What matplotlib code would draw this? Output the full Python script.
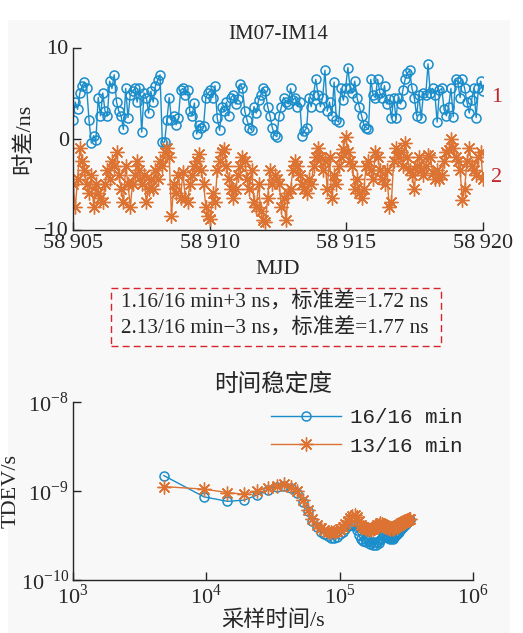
import numpy as np
import matplotlib
matplotlib.use("Agg")
import matplotlib.pyplot as plt
from matplotlib.patches import Rectangle
from matplotlib.ticker import FixedLocator, NullLocator

plt.rcParams['font.family'] = ['Liberation Serif', 'Noto Sans CJK SC', 'DejaVu Sans']
plt.rcParams['mathtext.fontset'] = 'custom'
plt.rcParams['mathtext.rm'] = 'Liberation Serif'
plt.rcParams['axes.unicode_minus'] = True

# ---------------- data ----------------
mjd_start, mjd_end = 58905, 58920
series1 = [
    2, 4, 3.2, 5, 5.8, 6.2, 5.5, 2, -0.5, 0.3, -0.2, 4.5,
    2.5, 5, 3, 2.5, 6.3, 5.5, 7, 4, 3, 2.5, 1, 5.5,
    2.3, 4.8, 5.2, 5.5, 4, 5.5, 0.7, 5, 4.5, 2.8, 5.2, 4,
    5.8, 6.4, 7, -0.4, -0.4, 2, 4.5, 2, 2.5, 1.5, 2.2, 5.3,
    5.5, 4.8, 5.3, 3, 2.5, 3.9, 0.5, 1.5, 1.2, 1.4, 4.5, 5,
    5.3, 4.5, 5.8, 2.2, 0.9, 3.5, 3, 4, 2.5, 4.5, 4.8, 3.8,
    4.3, 6, 5.5, 3, 2, 1.2, 0.9, 3.5, 2.8, 4.2, 4.8, 5.5,
    5.2, 3.5, 2.5, 1.2, 0.4, 0.2, 2.5, 3.5, 4.5, 4, 3.8, 5.5,
    4.2, 4.5, 3.5, 4, 0.3, 0.8, 1.2, 4.5, 3.5, 4.8, 6.5, 4.8,
    3.5, 4.5, 7.5, 3, 4, 2.5, 6.2, 2, 1.8, 5.5, 4.2, 5.5,
    7.8, 5.5, 5, 6.3, 4.5, 3.5, 2.5, 1.5, 1.2, 1, 6.5, 4.8,
    4.5, 6.5, 5, 4.5, 5.8, 3.8, 4.3, 2.2, 4.5, 2.2, 4.5, 3.8,
    5.3, 6.5, 7.2, 7.5, 5.5, 4.5, 2.5, 4.8, 2.2, 5, 4.8, 8.2,
    5, 5.5, 4.8, 1.8, 5.3, 5.5, 3.2, 2.5, 3.5, 5.5, 2.4, 6.5,
    6.2, 4.5, 6.5, 5.5, 4, 2.8, 4.2, 5.5, 2.3, 5.5, 6.3, 5.2,
]
series2 = [
    -5, -7.5, -4.5, -1, -2.5, -3.5, -5, -6, -4, -7.5, -5, -6,
    -6.5, -7, -5, -3.5, -4.5, -2.5, -3, -1.5, -4, -5.5, -7, -3,
    -5, -7.5, -5, -4, -2.5, -3.5, -5, -4, -7, -5.5, -4.5, -5.5,
    -3.5, -4.5, -2.5, -3, -1.5, -1, -2, -8.5, -5, -6, -4, -6.5,
    -3.7, -6.5, -7, -5, -4, -3, -2.5, -1.7, -3.5, -5, -7.5, -8.5,
    -8.8, -6, -7, -3.5, -2.5, -1.5, -1.2, -3, -4.5, -5.5, -6.5, -5.5,
    -4, -3, -2, -2.5, -4.5, -5.5, -3.5, -7, -7.5, -5, -8, -9,
    -9.2, -6.5, -3.5, -5, -4, -4.5, -5, -7.5, -6.5, -9, -6, -5.5,
    -3.5, -2.5, -3, -4, -5, -5.5, -6, -4.5, -5, -3, -2, -1,
    -2, -3.5, -2.5, -5.5, -2, -6.5, -4, -5, -3, -2, -1.2, 0.2,
    -1.5, -2.5, -3, -5.5, -4.5, -6, -6.5, -5.5, -3, -2.5, -3.5, -4.5,
    -1.5, -2, -3.5, -4.5, -5, -3.5, -7.5, -7, -2.5, -1, -2, -1.5,
    -3, -0.5, -2, -3.5, -4, -5.5, -3, -2, -3.5, -4, -3, -1.8,
    -2, -3.8, -4.5, -3.5, -4.5, -4, -2.5, -1.5, -1.3, 0, -1, -2,
    -2.5, -3.5, -6.8, -5.5, -2.5, -1, -3, -3.5, -4, -2, -1.5, -4.5,
]
mjd = np.linspace(mjd_start, mjd_end, len(series1))
mjd_ticks = [58905, 58910, 58915, 58920]
mjd_ticklabels = ['58\u2009905', '58\u2009910', '58\u2009915', '58\u2009920']
diff_ticks = [-10, 0, 10]

tau_step = 4800  # s
tdev_16 = [14.9, 8.6, 7.65, 7.9, 9.0, 10.2, 11.2, 11.5, 10.8, 9.6,
           7.6, 5.9, 4.6, 3.9, 3.5, 3.3, 3.15, 3.0, 2.95, 3.05,
           3.25, 3.5, 3.75, 4.0, 4.15, 4.2, 4.0, 3.6, 3.2, 2.9,
           2.75, 2.9, 2.65, 2.8, 2.55, 2.7, 2.5, 2.65, 2.5, 2.7,
           2.6, 2.85, 3.0, 3.1, 3.2, 3.15, 3.1, 3.0, 3.05, 2.9,
           3.0, 2.9, 3.05, 3.1, 3.2, 3.3, 3.4, 3.5, 3.6, 3.7,
           3.85, 3.95, 4.1, 4.2, 4.3, 4.4, 4.5, 4.55, 4.6, 4.7]
tdev_13 = [11.2, 10.5, 9.6, 9.2, 10.0, 10.9, 11.5, 11.9, 11.2, 9.9,
           7.9, 6.1, 4.8, 4.1, 3.8, 3.6, 3.5, 3.45, 3.5, 3.55,
           3.7, 3.95, 4.3, 4.6, 5.0, 5.3, 5.4, 5.1, 4.6, 4.2,
           3.9, 3.8, 3.75, 3.7, 3.65, 3.75, 3.7, 3.85, 3.9, 4.1,
           4.2, 4.35, 4.3, 4.2, 4.1, 4.0, 3.9, 3.85, 3.8, 3.75,
           3.8, 3.75, 3.85, 3.9, 4.0, 4.05, 4.15, 4.2, 4.3, 4.35,
           4.4, 4.45, 4.5, 4.55, 4.6, 4.65, 4.7, 4.75, 4.8, 4.85]
tau = tau_step * np.arange(1, len(tdev_16) + 1)
tdev_16 = np.array(tdev_16) * 1e-10
tdev_13 = np.array(tdev_13) * 1e-10
legend_labels = ['16/16 min', '13/16 min']

blue = '#1a8dcb'
orange = '#dd7332'
red = '#c0262d'
axc = '#262626'

W, H = 523, 633
fig = plt.figure(figsize=(W / 100, H / 100), dpi=100)
fig.patch.set_facecolor('white')
bg = Rectangle((8 / W, 0), (510 - 8) / W, 1 - 20 / H,
               transform=fig.transFigure, facecolor='#f8f8f8',
               edgecolor='none', zorder=-10)
fig.add_artist(bg)

def fx(px): return px / W
def fy(py): return 1 - py / H

TICK_FS = 16
LAB_FS = 16

# ---------------- top axes ----------------
ax1 = fig.add_axes([fx(73), fy(229.5), fx(483) - fx(73), fy(47.5) - fy(229.5)])
ax1.set_zorder(2)
ax1.patch.set_alpha(0)
ax1.plot(mjd, series1, '-o', color=blue, lw=1.0, ms=6.5, mfc='none', mew=1.1)
ax1.plot(mjd, series2, '-', color=orange, lw=1.0, marker=(8, 2, 0), ms=10, mew=1.0)
ax1.set_xlim(mjd_start, mjd_end)
ax1.set_ylim(-10, 10)
ax1.xaxis.set_major_locator(FixedLocator(mjd_ticks))
ax1.set_xticklabels(mjd_ticklabels)
ax1.yaxis.set_major_locator(FixedLocator(diff_ticks))
ax1.set_yticklabels(['\u221210', '0', '10'])
for s in ['top', 'right']:
    ax1.spines[s].set_visible(False)
for s in ['left', 'bottom']:
    ax1.spines[s].set_color(axc)
    ax1.spines[s].set_linewidth(1.0)
ax1.tick_params(direction='in', length=6, width=1.0, colors=axc, labelsize=TICK_FS, pad=3)
ax1.set_title('IM07-IM14', fontsize=15, color=axc, pad=6)
ax1.set_xlabel('MJD', fontsize=LAB_FS, color=axc, labelpad=5)
ax1.set_ylabel('时差/ns', fontsize=LAB_FS, color=axc, labelpad=0)
fig.text(fx(497), fy(98), '1', color=red, fontsize=16, ha='center', va='center')
fig.text(fx(497), fy(177), '2', color=red, fontsize=16, ha='center', va='center')

# ---------------- dashed box ----------------
fig.add_artist(Rectangle((fx(111), fy(346)), fx(441) - fx(111), fy(288) - fy(346),
                         transform=fig.transFigure, facecolor='none',
                         edgecolor='#d8232a', lw=1.0, ls=(0, (5, 3)), zorder=3))
fig.text(fx(121), fy(303), '1.16/16 min+3 ns，标准差=1.72 ns', fontsize=15.3,
         color=axc, ha='left', va='center')
fig.text(fx(121), fy(329), '2.13/16 min\u22123 ns，标准差=1.77 ns', fontsize=15.3,
         color=axc, ha='left', va='center')

# ---------------- bottom axes ----------------
ax2 = fig.add_axes([fx(73), fy(580), fx(473) - fx(73), fy(402) - fy(580)])
ax2.set_zorder(2)
ax2.patch.set_alpha(0)
ax2.loglog(tau, tdev_16, '-o', color=blue, lw=1.0, ms=6.5, mfc='none', mew=1.1,
           label=legend_labels[0])
ax2.loglog(tau, tdev_13, '-', color=orange, lw=1.0, marker=(8, 2, 0), ms=10, mew=1.0,
           label=legend_labels[1])
ax2.set_xlim(1e3, 1e6)
ax2.set_ylim(1e-10, 1e-8)
ax2.xaxis.set_major_locator(FixedLocator([1e3, 1e4, 1e5, 1e6]))
ax2.set_xticklabels([r'$10^{3}$', r'$10^{4}$', r'$10^{5}$', r'$10^{6}$'])
ax2.yaxis.set_major_locator(FixedLocator([1e-10, 1e-9, 1e-8]))
ax2.set_yticklabels([r'$10^{-10}$', r'$10^{-9}$', r'$10^{-8}$'])
ax2.xaxis.set_minor_locator(NullLocator())
ax2.yaxis.set_minor_locator(NullLocator())
for s in ['top', 'right']:
    ax2.spines[s].set_visible(False)
for s in ['left', 'bottom']:
    ax2.spines[s].set_color(axc)
    ax2.spines[s].set_linewidth(1.0)
ax2.tick_params(direction='in', length=6, width=1.0, colors=axc, labelsize=TICK_FS, pad=3)
ax2.set_title('时间稳定度', fontsize=17, color=axc, pad=8)
ax2.set_xlabel('采样时间/s', fontsize=LAB_FS, color=axc, labelpad=1)
ax2.set_ylabel('TDEV/s', fontsize=LAB_FS, color=axc, labelpad=0)
leg = ax2.legend(loc='upper right', bbox_to_anchor=(1.02, 1.07), frameon=False,
                 prop={'family': 'Liberation Mono', 'size': 15}, handlelength=3.4,
                 handletextpad=0.4, labelspacing=0.45)
for t in leg.get_texts():
    t.set_color(axc)

fig.savefig('out.png', dpi=100, facecolor=fig.get_facecolor())
